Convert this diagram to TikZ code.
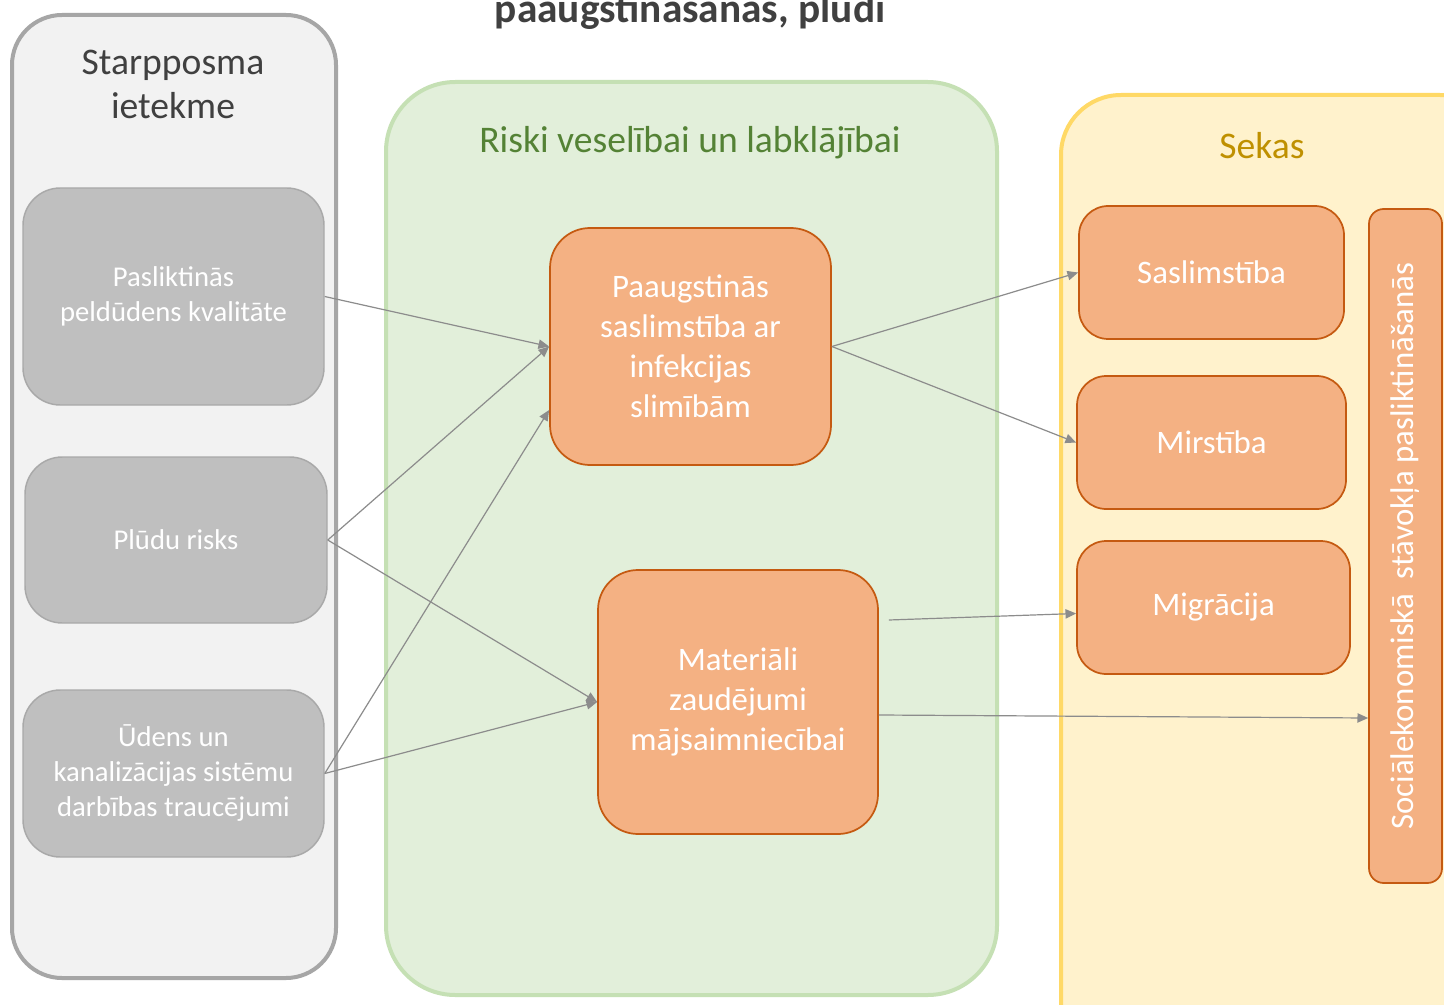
\documentclass[tikz,border=0pt]{standalone}
\usepackage{fontspec}
\setmainfont{Carlito}
\usetikzlibrary{arrows.meta,calc}
\definecolor{lpfill}{HTML}{F2F2F2}
\definecolor{lpbd}{HTML}{A6A6A6}
\definecolor{gbfill}{HTML}{BFBFBF}
\definecolor{gbbd}{HTML}{A9A9A9}
\definecolor{grfill}{HTML}{E2EFDA}
\definecolor{grbd}{HTML}{C5E0B4}
\definecolor{yefill}{HTML}{FFF2CC}
\definecolor{yebd}{HTML}{FFD966}
\definecolor{orfill}{HTML}{F4B183}
\definecolor{orbd}{HTML}{C55A11}
\definecolor{tgray}{HTML}{404040}
\definecolor{tgreen}{HTML}{548235}
\definecolor{tgold}{HTML}{BF9000}
\definecolor{conncol}{HTML}{8C8C8C}
\begin{document}
\begin{tikzpicture}[x=0.75pt,y=-0.75pt,
  panel/.style={draw, line width=3pt, inner sep=0pt},
  graybox/.style={draw=gbbd, fill=gbfill, line width=1.1pt, rounded corners=28pt, inner sep=0pt,
    align=center, text=white, font=\fontsize{21.5}{26.25}\selectfont},
  orbox/.style={draw=orbd, fill=orfill, line width=1.3pt, inner sep=0pt,
    align=center, text=white, font=\fontsize{24.6}{30}\selectfont},
  ptitle/.style={align=center, font=\fontsize{28.2}{33}\selectfont},
  conn/.style={draw=conncol, line width=0.9pt, -{Triangle[length=8pt,width=7pt]}}
]
\useasboundingbox (0,0) rectangle (1444,1005);
\fill[white] (0,0) rectangle (1444,1005);

% panels
\node[panel, draw=lpbd, fill=lpfill, rounded corners=37.5pt,
  minimum width=243pt, minimum height=722.25pt] (lp) at (174,496.5) {};
\node[panel, draw=grbd, fill=grfill, rounded corners=52pt,
  minimum width=458.25pt, minimum height=684.75pt] (gp) at (691.5,538.5) {};
\node[panel, draw=yebd, fill=yefill, rounded corners=45pt,
  minimum width=329.25pt, minimum height=723.75pt] (yp) at (1280.5,577.5) {};

% titles
\node[anchor=base, font=\bfseries\fontsize{31}{36}\selectfont, text=tgray] (title) at (690,23) {paaugstināšanās, plūdi};
\node[ptitle, text=tgray] (lt) at (173,84) {Starpposma\\ietekme};
\node[ptitle, text=tgreen] (gt) at (690,143) {Riski veselībai un labklājībai};
\node[ptitle, text=tgold] (yt) at (1262,146) {Sekas};

% left boxes
\node[graybox, minimum width=225.75pt, minimum height=162.75pt] (b1) at (173.5,296.5) {Pasliktinās\\peldūdens kvalitāte};
\node[graybox, minimum width=226.5pt, minimum height=124.5pt] (b2) at (176,540) {Plūdu risks};
\node[graybox, minimum width=225.75pt, minimum height=125.25pt] (b3) at (173.5,773.5) {Ūdens un\\kanalizācijas sistēmu\\darbības traucējumi};

% middle boxes
\node[orbox, rounded corners=30pt, minimum width=210.75pt, minimum height=177.75pt] (o1) at (690.5,346.5) {Paaugstinās\\saslimstība ar\\infekcijas\\slimībām};
\node[orbox, rounded corners=30pt, minimum width=210pt, minimum height=198pt] (o2) at (738,702) {Materiāli\\zaudējumi\\mājsaimniecībai};

% right boxes
\node[orbox, rounded corners=22pt, minimum width=198.75pt, minimum height=99.75pt] (s1) at (1211.5,272.5) {Saslimstība};
\node[orbox, rounded corners=22pt, minimum width=201.75pt, minimum height=99.75pt] (s2) at (1211.5,442.5) {Mirstība};
\node[orbox, rounded corners=22pt, minimum width=204.75pt, minimum height=99.75pt] (s3) at (1213.5,607.5) {Migrācija};
\node[orbox, rounded corners=11pt, minimum width=505.5pt, minimum height=54.75pt, rotate=90] (s4) at (1405.5,546) {Sociālekonomiskā\ \ stāvokļa\ pasliktināšanās};

% connectors
\draw[conn] (b1.east) -- (o1.west);
\draw[conn] (b2.east) -- (o1.west);
\draw[conn] (b2.east) -- (o2.west);
\draw[conn] (b3.east) -- ([yshift=-47.6pt]o1.west);
\draw[conn] (b3.east) -- (o2.west);
\draw[conn] (o1.east) -- (s1.west);
\draw[conn] (o1.east) -- (s2.west);
\coordinate (m0) at ([xshift=7.5pt,yshift=61.5pt]o2.east);
\draw[conn] (m0) -- ([yshift=-4.5pt]s3.west);
\draw[conn] ([yshift=-9.75pt]o2.east) -- ([yshift=-129pt]s4.north);
\end{tikzpicture}
\end{document}
